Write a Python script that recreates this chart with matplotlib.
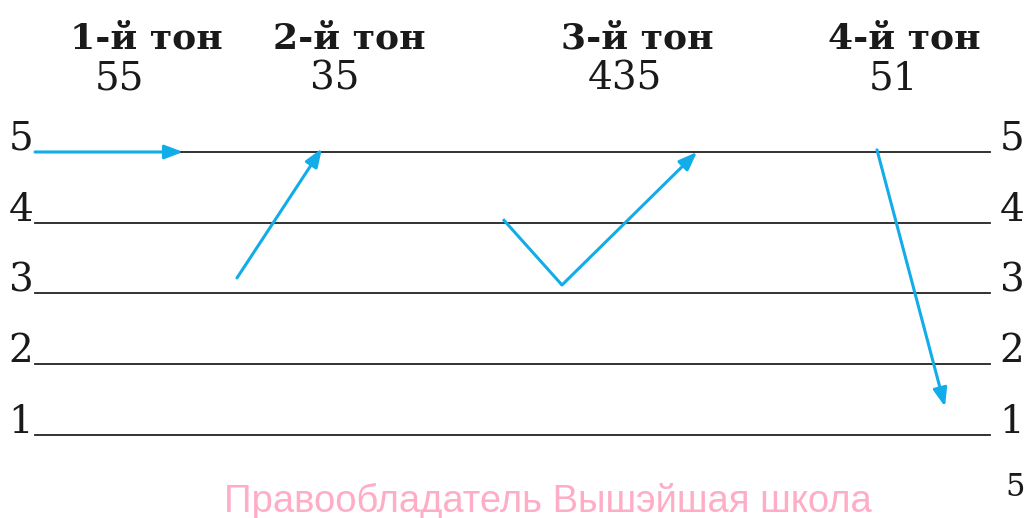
import matplotlib
matplotlib.use("Agg")
import matplotlib.pyplot as plt

# ---- data ----
levels = [1, 2, 3, 4, 5]
tone_titles = ["1-й тон", "2-й тон", "3-й тон", "4-й тон"]
tone_codes = ["55", "35", "435", "51"]
title_x = [146, 349, 637, 904]
code_x = [120, 335, 625, 893]

# contour of each tone: (x, level) points
tone1_x = [35, 183]
tone1_y = [5.0, 5.0]
tone2_x = [237, 322]
tone2_y = [3.22, 5.05]
tone3_x = [503, 562, 697]
tone3_y = [4.05, 3.12, 5.0]
tone4_x = [877, 945]
tone4_y = [5.03, 1.4]
contours = [(tone1_x, tone1_y), (tone2_x, tone2_y), (tone3_x, tone3_y), (tone4_x, tone4_y)]

page_number = "5"
watermark = "Правообладатель Вышэйшая школа"

BLUE = "#12ACE8"
serif = ["DejaVu Serif"]

fig = plt.figure(figsize=(10.28, 5.18), dpi=100)
ax = fig.add_axes([0, 0, 1, 1])
ax.set_xlim(0, 1028)
ax.set_ylim(-0.173, 7.148)
ax.axis("off")

# staff lines
for lv in levels:
    ax.plot([35, 990], [lv, lv], color="#222222", lw=1.3, zorder=1)
    ax.text(21, lv + 0.03, str(lv), ha="center", va="baseline", fontsize=28,
            family=serif, color="#1a1a1a")
    ax.text(1012, lv + 0.03, str(lv), ha="center", va="baseline", fontsize=28,
            family=serif, color="#1a1a1a")

# headers
for t, x in zip(tone_titles, title_x):
    ax.text(x, 6.61, t, ha="center", va="center", fontsize=26,
            fontweight="bold", family=serif, color="#1a1a1a")
for c, x in zip(tone_codes, code_x):
    ax.text(x, 6.03, c, ha="center", va="center", fontsize=28,
            family=serif, color="#1a1a1a")

# contours
arrowprops = dict(arrowstyle="-|>,head_length=1.1,head_width=0.42",
                  color=BLUE, lw=2.2, shrinkA=0, shrinkB=0)
for xs, ys in contours:
    if len(xs) > 2:
        ax.plot(xs[:-1], ys[:-1], color=BLUE, lw=2.2, solid_capstyle="butt", zorder=3)
    ax.annotate("", xy=(xs[-1], ys[-1]), xytext=(xs[-2], ys[-2]),
                arrowprops=arrowprops, zorder=3)

ax.text(1015, 0.265, page_number, ha="center", va="center", fontsize=22,
        family=serif, color="#1a1a1a")
ax.text(548, 0.06, watermark, ha="center", va="center", fontsize=27.5,
        family=["Liberation Sans"], color="#FFADC6")

fig.savefig("out.png", dpi=100)
